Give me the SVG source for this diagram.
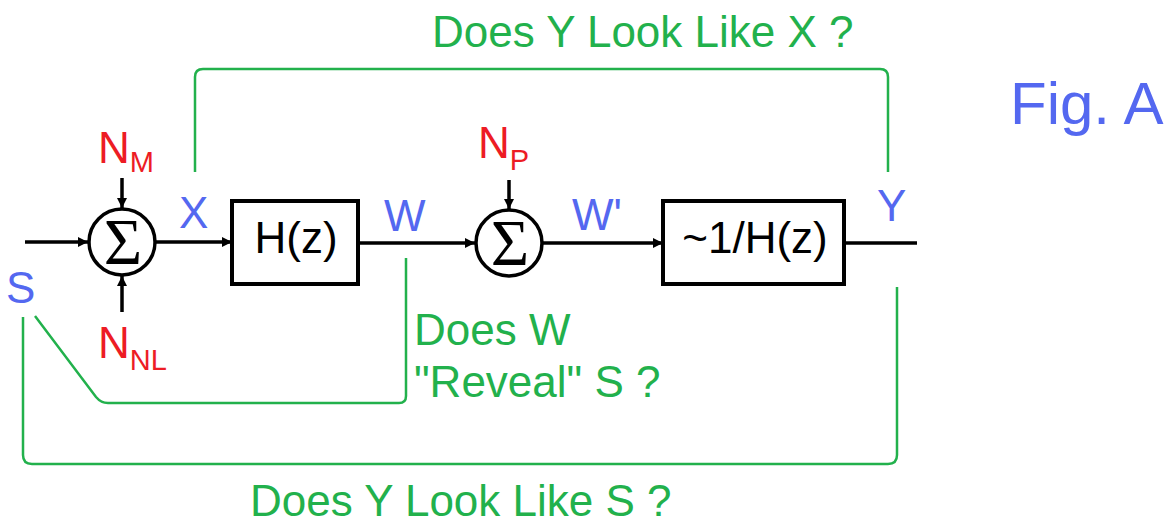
<svg xmlns="http://www.w3.org/2000/svg" width="1176" height="525" viewBox="0 0 1176 525">
<defs>
<style>
.ln{stroke:#000;stroke-width:3.5;fill:none}
.box{stroke:#000;stroke-width:4;fill:#fff}
.g{stroke:#22b14c;stroke-width:2.5;fill:none}
.gt{fill:#22b14c;font-family:"Liberation Sans",Arial,sans-serif;font-size:44px}
.bt{fill:#5468f0;font-family:"Liberation Sans",Arial,sans-serif;font-size:44px}
.rt{fill:#ed1c24;font-family:"Liberation Sans",Arial,sans-serif;font-size:44px}
.sub{font-size:29px}
.kt{fill:#000;font-family:"Liberation Sans",Arial,sans-serif;font-size:44px;text-anchor:middle}
.sig{fill:#000;font-family:"Liberation Serif","Times New Roman",serif;font-size:66px;text-anchor:middle}
</style>
<marker id="ah" viewBox="0 0 10 10" refX="10" refY="5" markerWidth="10" markerHeight="10" markerUnits="userSpaceOnUse" orient="auto">
<path d="M0,0 L10,5 L0,10 z" fill="#000"/>
</marker>
</defs>
<rect width="1176" height="525" fill="#fff"/>
<g id="connectors">
<line class="ln" x1="25" y1="242" x2="88" y2="242" marker-end="url(#ah)"/>
<line class="ln" x1="122" y1="178" x2="122" y2="208" marker-end="url(#ah)"/>
<line class="ln" x1="122" y1="312" x2="122" y2="276" marker-end="url(#ah)"/>
<line class="ln" x1="156" y1="242" x2="232" y2="242" marker-end="url(#ah)"/>
<line class="ln" x1="358" y1="243" x2="475" y2="243" marker-end="url(#ah)"/>
<line class="ln" x1="509" y1="180" x2="509" y2="209" marker-end="url(#ah)"/>
<line class="ln" x1="543" y1="243" x2="663" y2="243" marker-end="url(#ah)"/>
<line class="ln" x1="844" y1="243" x2="917" y2="243"/>
<path class="g" d="M195,172 V77 Q195,69 203,69 H880 Q888,69 888,77 V172"/>
<path class="g" d="M23,317 V455 Q23,464 32,464 H888 Q897,464 897,455 V287"/>
<path class="g" d="M35,316 L96,397 Q101,403 108,403 H399 Q406,403 406,396 V258"/>
</g>
<g id="sum1">
<circle cx="122" cy="242" r="33" fill="#fff" stroke="#000" stroke-width="3.5"/>
<text class="sig" x="123" y="264">Σ</text>
</g>
<g id="sum2">
<circle cx="509" cy="243" r="33" fill="#fff" stroke="#000" stroke-width="3.5"/>
<text class="sig" x="510" y="265">Σ</text>
</g>
<g id="hz">
<rect class="box" x="232" y="201" width="126" height="83"/>
<text class="kt" x="296" y="253">H(z)</text>
</g>
<g id="inv">
<rect class="box" x="663" y="201" width="181" height="83"/>
<text class="kt" x="755" y="253">~1/H(z)</text>
</g>
<g id="labels">
<text class="rt" x="98" y="163">N<tspan class="sub" dy="9">M</tspan></text>
<text class="rt" x="98" y="358">N<tspan class="sub" dy="12">NL</tspan></text>
<text class="rt" x="478" y="158">N<tspan class="sub" dy="12">P</tspan></text>
<text class="bt" x="179" y="228">X</text>
<text class="bt" x="384" y="231">W</text>
<text class="bt" x="572" y="230">W'</text>
<text class="bt" x="877" y="221">Y</text>
<text class="bt" x="6" y="303">S</text>
<text class="bt" x="1010" y="124" style="font-size:60px">Fig. A</text>
<text class="gt" x="432" y="47">Does Y Look Like X ?</text>
<text class="gt" x="414" y="345">Does W</text>
<text class="gt" x="414" y="397">"Reveal" S ?</text>
<text class="gt" x="250" y="516">Does Y Look Like S ?</text>
</g>
</svg>
